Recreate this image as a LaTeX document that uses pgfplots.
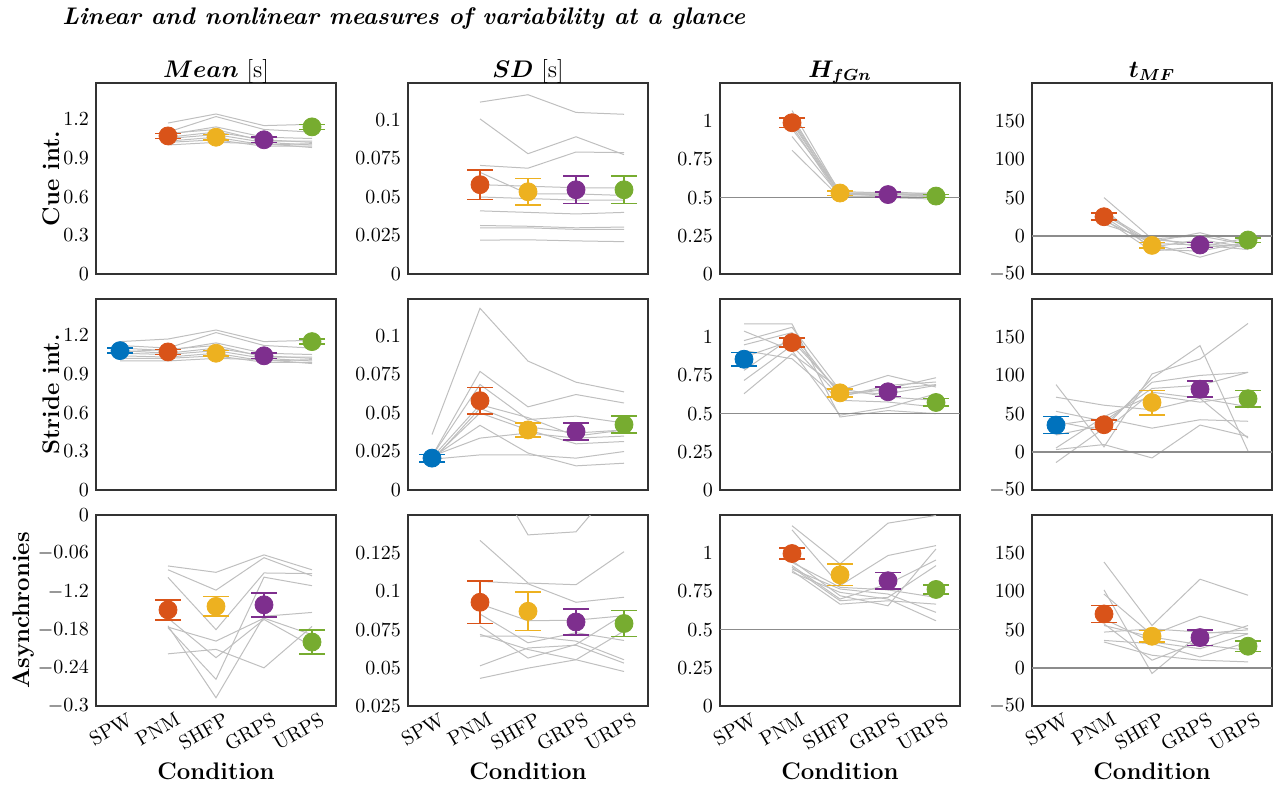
\documentclass[border=0pt]{standalone}
\usepackage{pgfplots}
\pgfplotsset{compat=1.18}
\usepgfplotslibrary{groupplots}
\usepackage{bm}

\definecolor{cB}{RGB}{0,114,189}
\definecolor{cR}{RGB}{217,83,25}
\definecolor{cY}{RGB}{237,177,32}
\definecolor{cP}{RGB}{126,47,142}
\definecolor{cG}{RGB}{119,172,48}

\pgfplotsset{
  subj/.style={black!25, line width=0.5pt, mark=none},
  refl/.style={black!45, line width=0.8pt, mark=none},
  grp/.style={only marks, mark=*, mark size=4.5pt, color=#1,
    mark options={fill=#1, draw=#1},
    error bars/.cd, y dir=both, y explicit,
    error bar style={line width=0.8pt, #1},
    error mark options={rotate=90, #1, mark size=6.5pt, line width=0.8pt}},
}
% one condition mean with error bar
\newcommand{\grpmean}[4]{\addplot[grp=#1] coordinates {(#2,#3) +- (0,#4)};}

\begin{document}
\begin{tikzpicture}
\begin{groupplot}[
  group style={group size=4 by 3, horizontal sep=36pt, vertical sep=12.5pt},
  scale only axis, width=120pt, height=95.5pt,
  xmin=0.5, xmax=5.5, xtick={1,2,3,4,5}, xticklabels={},
  axis line style={black!80, line width=0.8pt},
  major tick length=0pt,
  tick label style={font=\normalsize},
  xticklabel style={rotate=30, anchor=north east, xshift=5pt, yshift=-0.5pt},
  label style={font=\large\bfseries},
  ylabel shift=-5pt,
  title style={font=\large, at={(0.5,1)}, anchor=base, yshift=-3pt},
  xlabel style={at={(0.5,0)}, anchor=base, yshift=-36.5pt},
  scaled y ticks=false,
  yticklabel style={/pgf/number format/fixed, /pgf/number format/precision=3},
]
% ---------------- row 1: cue intervals
\nextgroupplot[ymin=0, ymax=1.48, ytick={0,0.3,0.6,0.9,1.2},
  title={$\bm{Mean}$ [s]}, ylabel={Cue int.}]
\coordinate (tl) at (rel axis cs:0,1);
\addplot[subj] coordinates {(2,1.17)(3,1.24)(4,1.15)(5,1.16)};
\addplot[subj] coordinates {(2,1.10)(3,1.22)(4,1.12)(5,1.10)};
\addplot[subj] coordinates {(2,1.08)(3,1.14)(4,1.06)(5,1.05)};
\addplot[subj] coordinates {(2,1.06)(3,1.10)(4,1.04)(5,1.02)};
\addplot[subj] coordinates {(2,1.05)(3,1.08)(4,1.02)(5,1.00)};
\addplot[subj] coordinates {(2,1.03)(3,1.06)(4,1.00)(5,1.01)};
\addplot[subj] coordinates {(2,1.02)(3,1.04)(4,0.99)(5,0.99)};
\addplot[subj] coordinates {(2,1.09)(3,1.12)(4,1.03)(5,1.03)};
\addplot[subj] coordinates {(2,1.00)(3,1.02)(4,1.01)(5,0.98)};
\grpmean{cR}{2}{1.07}{0.02}
\grpmean{cY}{3}{1.06}{0.02}
\grpmean{cP}{4}{1.04}{0.02}
\grpmean{cG}{5}{1.14}{0.02}

\nextgroupplot[ymin=0, ymax=0.124, ytick={0,0.025,0.05,0.075,0.1},
  title={$\bm{SD}$ [s]}]
\addplot[subj] coordinates {(2,0.1116)(3,0.1164)(4,0.1049)(5,0.1037)};
\addplot[subj] coordinates {(2,0.1007)(3,0.0781)(4,0.0891)(5,0.0775)};
\addplot[subj] coordinates {(2,0.0705)(3,0.0687)(4,0.0792)(5,0.0788)};
\addplot[subj] coordinates {(2,0.066)(3,0.052)(4,0.052)(5,0.051)};
\addplot[subj] coordinates {(2,0.058)(3,0.057)(4,0.056)(5,0.056)};
\addplot[subj] coordinates {(2,0.050)(3,0.049)(4,0.048)(5,0.048)};
\addplot[subj] coordinates {(2,0.041)(3,0.040)(4,0.039)(5,0.040)};
\addplot[subj] coordinates {(2,0.0315)(3,0.031)(4,0.030)(5,0.0305)};
\addplot[subj] coordinates {(2,0.030)(3,0.030)(4,0.029)(5,0.029)};
\addplot[subj] coordinates {(2,0.022)(3,0.0222)(4,0.0215)(5,0.021)};
\grpmean{cR}{2}{0.058}{0.0095}
\grpmean{cY}{3}{0.0534}{0.0085}
\grpmean{cP}{4}{0.0547}{0.0088}
\grpmean{cG}{5}{0.0547}{0.0088}

\nextgroupplot[ymin=0, ymax=1.25, ytick={0,0.25,0.5,0.75,1},
  title={$\bm{H_{fGn}}$}]
\addplot[subj] coordinates {(2,1.07)(3,0.53)(4,0.53)(5,0.51)};
\addplot[subj] coordinates {(2,1.03)(3,0.52)(4,0.52)(5,0.52)};
\addplot[subj] coordinates {(2,1.01)(3,0.54)(4,0.53)(5,0.50)};
\addplot[subj] coordinates {(2,1.00)(3,0.52)(4,0.54)(5,0.52)};
\addplot[subj] coordinates {(2,0.99)(3,0.51)(4,0.51)(5,0.50)};
\addplot[subj] coordinates {(2,0.97)(3,0.50)(4,0.52)(5,0.51)};
\addplot[subj] coordinates {(2,0.95)(3,0.53)(4,0.53)(5,0.53)};
\addplot[subj] coordinates {(2,0.90)(3,0.51)(4,0.50)(5,0.49)};
\addplot[subj] coordinates {(2,0.81)(3,0.50)(4,0.51)(5,0.50)};
\addplot[refl] coordinates {(0.5,0.5)(5.5,0.5)};
\grpmean{cR}{2}{0.99}{0.03}
\grpmean{cY}{3}{0.53}{0.015}
\grpmean{cP}{4}{0.52}{0.015}
\grpmean{cG}{5}{0.51}{0.01}

\nextgroupplot[ymin=-50, ymax=200, ytick={-50,0,50,100,150},
  title={$\bm{t_{MF}}$}]
\addplot[subj] coordinates {(2,50)(3,-4)(4,0)(5,-12)};
\addplot[subj] coordinates {(2,0)(3,-2)(4,-15)(5,-10)};
\addplot[subj] coordinates {(2,28)(3,-10)(4,-28)(5,-10)};
\addplot[subj] coordinates {(2,25)(3,-15)(4,-5)(5,-15)};
\addplot[subj] coordinates {(2,20)(3,-10)(4,-12)(5,-18)};
\addplot[subj] coordinates {(2,30)(3,-8)(4,4)(5,-12)};
\addplot[subj] coordinates {(2,35)(3,-18)(4,-20)(5,-8)};
\addplot[subj] coordinates {(2,15)(3,-5)(4,-10)(5,-15)};
\addplot[subj] coordinates {(2,22)(3,-20)(4,-14)(5,-3)};
\addplot[refl] coordinates {(0.5,0)(5.5,0)};
\grpmean{cR}{2}{25}{4.5}
\grpmean{cY}{3}{-12.5}{3.5}
\grpmean{cP}{4}{-12}{3.5}
\grpmean{cG}{5}{-5.5}{3}

% ---------------- row 2: stride intervals
\nextgroupplot[ymin=0, ymax=1.48, ytick={0,0.3,0.6,0.9,1.2},
  ylabel={Stride int.}]
\addplot[subj] coordinates {(1,1.15)(2,1.17)(3,1.24)(4,1.15)(5,1.16)};
\addplot[subj] coordinates {(1,1.12)(2,1.10)(3,1.22)(4,1.12)(5,1.10)};
\addplot[subj] coordinates {(1,1.10)(2,1.08)(3,1.14)(4,1.06)(5,1.05)};
\addplot[subj] coordinates {(1,1.08)(2,1.06)(3,1.10)(4,1.04)(5,1.02)};
\addplot[subj] coordinates {(1,1.06)(2,1.05)(3,1.08)(4,1.02)(5,1.00)};
\addplot[subj] coordinates {(1,1.04)(2,1.03)(3,1.06)(4,1.00)(5,1.01)};
\addplot[subj] coordinates {(1,1.02)(2,1.02)(3,1.04)(4,0.99)(5,0.99)};
\addplot[subj] coordinates {(1,1.07)(2,1.09)(3,1.12)(4,1.03)(5,1.03)};
\addplot[subj] coordinates {(1,1.00)(2,1.00)(3,1.02)(4,1.01)(5,0.98)};
\grpmean{cB}{1}{1.08}{0.02}
\grpmean{cR}{2}{1.07}{0.02}
\grpmean{cY}{3}{1.06}{0.02}
\grpmean{cP}{4}{1.04}{0.02}
\grpmean{cG}{5}{1.15}{0.02}

\nextgroupplot[ymin=0, ymax=0.124, ytick={0,0.025,0.05,0.075,0.1}]
\addplot[subj] coordinates {(1,0.036)(2,0.118)(3,0.0837)(4,0.070)(5,0.0637)};
\addplot[subj] coordinates {(1,0.022)(2,0.077)(3,0.054)(4,0.062)(5,0.0565)};
\addplot[subj] coordinates {(1,0.022)(2,0.0685)(3,0.0457)(4,0.048)(5,0.0435)};
\addplot[subj] coordinates {(1,0.021)(2,0.0554)(3,0.047)(4,0.035)(5,0.039)};
\addplot[subj] coordinates {(1,0.020)(2,0.050)(3,0.039)(4,0.030)(5,0.0315)};
\addplot[subj] coordinates {(1,0.021)(2,0.042)(3,0.024)(4,0.0157)(5,0.0174)};
\addplot[subj] coordinates {(1,0.020)(2,0.0228)(3,0.0228)(4,0.0207)(5,0.025)};
\addplot[subj] coordinates {(1,0.022)(2,0.0337)(3,0.037)(4,0.0337)(5,0.035)};
\addplot[subj] coordinates {(1,0.019)(2,0.053)(3,0.041)(4,0.037)(5,0.039)};
\grpmean{cB}{1}{0.0207}{0.0024}
\grpmean{cR}{2}{0.058}{0.0085}
\grpmean{cY}{3}{0.039}{0.0046}
\grpmean{cP}{4}{0.038}{0.0055}
\grpmean{cG}{5}{0.0425}{0.0054}

\nextgroupplot[ymin=0, ymax=1.25, ytick={0,0.25,0.5,0.75,1}]
\addplot[subj] coordinates {(1,1.087)(2,1.087)(3,0.478)(4,0.52)(5,0.50)};
\addplot[subj] coordinates {(1,1.04)(2,0.913)(3,0.49)(4,0.54)(5,0.63)};
\addplot[subj] coordinates {(1,0.978)(2,1.065)(3,0.652)(4,0.75)(5,0.674)};
\addplot[subj] coordinates {(1,0.783)(2,1.0)(3,0.63)(4,0.663)(5,0.735)};
\addplot[subj] coordinates {(1,0.717)(2,0.946)(3,0.609)(4,0.685)(5,0.707)};
\addplot[subj] coordinates {(1,0.63)(2,0.891)(3,0.663)(4,0.609)(5,0.587)};
\addplot[subj] coordinates {(1,0.913)(2,0.859)(3,0.587)(4,0.576)(5,0.543)};
\addplot[subj] coordinates {(1,0.87)(2,0.978)(3,0.641)(4,0.63)(5,0.685)};
\addplot[subj] coordinates {(1,0.95)(2,1.03)(3,0.62)(4,0.66)(5,0.69)};
\addplot[refl] coordinates {(0.5,0.5)(5.5,0.5)};
\grpmean{cB}{1}{0.856}{0.045}
\grpmean{cR}{2}{0.965}{0.03}
\grpmean{cY}{3}{0.636}{0.027}
\grpmean{cP}{4}{0.643}{0.03}
\grpmean{cG}{5}{0.573}{0.025}

\nextgroupplot[ymin=-50, ymax=200, ytick={-50,0,50,100,150}]
\addplot[subj] coordinates {(1,88)(2,6.5)(3,102)(4,121.5)(5,168)};
\addplot[subj] coordinates {(1,-14)(2,31)(3,96)(4,139)(5,1)};
\addplot[subj] coordinates {(1,71.5)(2,61)(3,55)(4,70)(5,59)};
\addplot[subj] coordinates {(1,3)(2,9.5)(3,-8)(4,35)(5,20)};
\addplot[subj] coordinates {(1,35)(2,44)(3,31)(4,42)(5,40)};
\addplot[subj] coordinates {(1,22)(2,35)(3,91)(4,100)(5,104)};
\addplot[subj] coordinates {(1,40)(2,27)(3,78)(4,70)(5,18)};
\addplot[subj] coordinates {(1,53)(2,40)(3,83)(4,87)(5,104)};
\addplot[subj] coordinates {(1,5)(2,46)(3,74)(4,65)(5,74)};
\addplot[refl] coordinates {(0.5,0)(5.5,0)};
\grpmean{cB}{1}{35}{11}
\grpmean{cR}{2}{35.5}{6.5}
\grpmean{cY}{3}{64.5}{16}
\grpmean{cP}{4}{82}{10.5}
\grpmean{cG}{5}{69.5}{11}

% ---------------- row 3: asynchronies
\nextgroupplot[ymin=-0.3, ymax=0, ytick={-0.3,-0.24,-0.18,-0.12,-0.06,0},
  yticklabels={$-0.3$,$-0.24$,$-0.18$,$-1.2$,$-0.06$,$0$},
  xticklabels={SPW,PNM,SHFP,GRPS,URPS},
  ylabel={Asynchronies}, xlabel={Condition}]
\addplot[subj] coordinates {(2,-0.080)(3,-0.090)(4,-0.0626)(5,-0.086)};
\addplot[subj] coordinates {(2,-0.086)(3,-0.118)(4,-0.067)(5,-0.0955)};
\addplot[subj] coordinates {(2,-0.098)(3,-0.180)(4,-0.091)(5,-0.092)};
\addplot[subj] coordinates {(2,-0.174)(3,-0.287)(4,-0.159)(5,-0.153)};
\addplot[subj] coordinates {(2,-0.177)(3,-0.258)(4,-0.0976)(5,-0.111)};
\addplot[subj] coordinates {(2,-0.218)(3,-0.211)(4,-0.240)(5,-0.175)};
\addplot[subj] coordinates {(2,-0.176)(3,-0.198)(4,-0.162)(5,-0.188)};
\addplot[subj] coordinates {(2,-0.162)(3,-0.224)(4,-0.164)(5,-0.206)};
\grpmean{cR}{2}{-0.149}{0.016}
\grpmean{cY}{3}{-0.1435}{0.0155}
\grpmean{cP}{4}{-0.141}{0.019}
\grpmean{cG}{5}{-0.1995}{0.0185}

\nextgroupplot[ymin=0.025, ymax=0.15, ytick={0.025,0.05,0.075,0.1,0.125},
  xticklabels={SPW,PNM,SHFP,GRPS,URPS}, xlabel={Condition}]
\addplot[subj] coordinates {(2,0.191)(3,0.137)(4,0.139)(5,0.176)};
\addplot[subj] coordinates {(2,0.1334)(3,0.1055)(4,0.1044)(5,0.126)};
\addplot[subj] coordinates {(2,0.1066)(3,0.105)(4,0.0929)(5,0.0962)};
\addplot[subj] coordinates {(2,0.0918)(3,0.0808)(4,0.0812)(5,0.0841)};
\addplot[subj] coordinates {(2,0.0852)(3,0.0664)(4,0.073)(5,0.0679)};
\addplot[subj] coordinates {(2,0.0774)(3,0.0564)(4,0.0653)(5,0.085)};
\addplot[subj] coordinates {(2,0.0719)(3,0.062)(4,0.0553)(5,0.0476)};
\addplot[subj] coordinates {(2,0.0708)(3,0.0708)(4,0.0675)(5,0.0553)};
\addplot[subj] coordinates {(2,0.0513)(3,0.063)(4,0.0648)(5,0.0531)};
\addplot[subj] coordinates {(2,0.0431)(3,0.0498)(4,0.0553)(5,0.0741)};
\grpmean{cR}{2}{0.0929}{0.014}
\grpmean{cY}{3}{0.087}{0.0125}
\grpmean{cP}{4}{0.080}{0.0085}
\grpmean{cG}{5}{0.079}{0.0086}

\nextgroupplot[ymin=0, ymax=1.25, ytick={0,0.25,0.5,0.75,1},
  xticklabels={SPW,PNM,SHFP,GRPS,URPS}, xlabel={Condition}]
\addplot[subj] coordinates {(2,1.18)(3,0.93)(4,1.197)(5,1.247)};
\addplot[subj] coordinates {(2,1.153)(3,0.788)(4,0.985)(5,1.05)};
\addplot[subj] coordinates {(2,0.952)(3,0.722)(4,0.656)(5,1.028)};
\addplot[subj] coordinates {(2,0.919)(3,0.70)(4,0.799)(5,0.956)};
\addplot[subj] coordinates {(2,0.908)(3,0.689)(4,0.711)(5,0.919)};
\addplot[subj] coordinates {(2,0.886)(3,0.667)(4,0.689)(5,0.667)};
\addplot[subj] coordinates {(2,0.897)(3,0.766)(4,0.733)(5,0.613)};
\addplot[subj] coordinates {(2,0.875)(3,0.744)(4,0.70)(5,0.558)};
\addplot[subj] coordinates {(2,0.94)(3,0.777)(4,0.76)(5,0.711)};
\addplot[refl] coordinates {(0.5,0.5)(5.5,0.5)};
\grpmean{cR}{2}{0.998}{0.035}
\grpmean{cY}{3}{0.859}{0.071}
\grpmean{cP}{4}{0.82}{0.055}
\grpmean{cG}{5}{0.763}{0.03}

\nextgroupplot[ymin=-50, ymax=200, ytick={-50,0,50,100,150},
  xticklabels={SPW,PNM,SHFP,GRPS,URPS}, xlabel={Condition}]
\addplot[subj] coordinates {(2,138.5)(3,55.4)(4,116)(5,95)};
\addplot[subj] coordinates {(2,102)(3,-7.4)(4,44.6)(5,49.8)};
\addplot[subj] coordinates {(2,96.5)(3,43.3)(4,67.5)(5,51)};
\addplot[subj] coordinates {(2,57.6)(3,10)(4,34.6)(5,55.4)};
\addplot[subj] coordinates {(2,46.8)(3,51)(4,46.8)(5,44.6)};
\addplot[subj] coordinates {(2,35.9)(3,31.6)(4,14.3)(5,33.8)};
\addplot[subj] coordinates {(2,33.8)(3,16.5)(4,10)(5,7.8)};
\addplot[subj] coordinates {(2,64)(3,33.8)(4,25)(5,44.6)};
\addplot[subj] coordinates {(2,55.4)(3,40.3)(4,30.3)(5,23)};
\addplot[refl] coordinates {(0.5,0)(5.5,0)};
\grpmean{cR}{2}{70.5}{11}
\grpmean{cY}{3}{41.3}{7.5}
\grpmean{cP}{4}{39.6}{10.2}
\grpmean{cG}{5}{28.3}{6.7}
\coordinate (br) at (rel axis cs:1,0);
\end{groupplot}
\node[anchor=base west, inner sep=0pt, font=\large\bfseries\itshape]
  at ([shift={(-17pt,29.5pt)}]tl) {Linear and nonlinear measures of variability at a glance};
\pgfresetboundingbox
\path[use as bounding box] ([shift={(-48pt,41.5pt)}]tl) rectangle ([shift={(3.5pt,-39.5pt)}]br);
\end{tikzpicture}
\end{document}
